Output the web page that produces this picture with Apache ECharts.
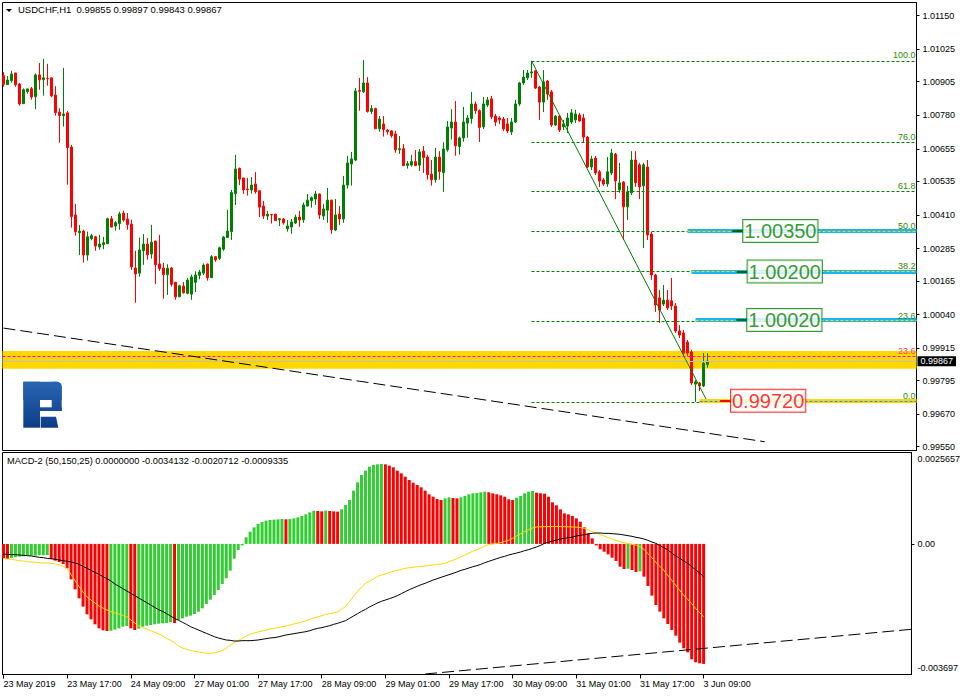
<!DOCTYPE html>
<html><head><meta charset="utf-8">
<script src="https://cdn.jsdelivr.net/npm/echarts@6/dist/echarts.min.js"></script>
<style>html,body{margin:0;padding:0;background:#fff}#c{width:963px;height:696px}</style>
</head><body><div id="c"></div>
<script>
// ---------------- data ----------------
const timeLabels = ['23 May 2019','23 May 17:00','24 May 09:00','27 May 01:00','27 May 17:00','28 May 09:00','29 May 01:00','29 May 17:00','30 May 09:00','31 May 01:00','31 May 17:00','3 Jun 09:00'];
const timeLabelBars = [0,16,32,48,64,80,96,112,128,144,160,176];
const priceTicks = ['1.01150','1.01025','1.00905','1.00780','1.00655','1.00535','1.00410','1.00285','1.00165','1.00040','0.99915','0.99795','0.99670','0.99550'];
const macdTicks = ['0.0025657','0.00','-0.003697'];

const open = [1.00927,1.00894,1.00909,1.00937,1.00896,1.00823,1.00868,1.00879,1.00849,1.00930,
1.00912,1.00917,1.00919,1.00855,1.00792,1.00779,1.00789,1.00662,1.00410,1.00344,
1.00350,1.00261,1.00322,1.00329,1.00291,1.00300,1.00303,1.00396,1.00369,1.00378,
1.00417,1.00395,1.00376,1.00213,1.00194,1.00277,1.00302,1.00265,1.00313,1.00228,
1.00213,1.00188,1.00213,1.00160,1.00106,1.00146,1.00119,1.00116,1.00160,1.00186,
1.00194,1.00228,1.00177,1.00255,1.00249,1.00283,1.00326,1.00348,1.00489,1.00583,
1.00547,1.00506,1.00503,1.00525,1.00500,1.00443,1.00406,1.00412,1.00413,1.00392,
1.00395,1.00359,1.00365,1.00380,1.00402,1.00392,1.00443,1.00463,1.00469,1.00488,
1.00406,1.00428,1.00465,1.00354,1.00413,1.00395,1.00521,1.00599,1.00614,1.00872,
1.00867,1.00900,1.00794,1.00805,1.00730,1.00748,1.00725,1.00722,1.00711,1.00652,
1.00656,1.00594,1.00595,1.00608,1.00595,1.00647,1.00625,1.00562,1.00541,1.00625,
1.00567,1.00652,1.00733,1.00755,1.00664,1.00696,1.00751,1.00768,1.00822,1.00797,
1.00737,1.00818,1.00841,1.00777,1.00770,1.00766,1.00748,1.00718,1.00755,1.00822,
1.00900,1.00919,1.00937,1.00945,1.00885,1.00829,1.00907,1.00867,1.00744,1.00777,
1.00737,1.00740,1.00755,1.00763,1.00781,1.00770,1.00699,1.00588,1.00621,1.00570,
1.00540,1.00525,1.00566,1.00636,1.00503,1.00532,1.00440,1.00492,1.00614,1.00596,
1.00518,1.00588,1.00339,1.00187,1.00102,1.00079,1.00094,1.00091,1.00072,0.99979,
0.99972,0.99938,0.99901,0.99782,0.99786,0.99775,0.99855];
const high = [1.00940,1.00926,1.00945,1.00938,1.00900,1.00880,1.00879,1.00885,1.00935,1.00974,
1.00989,1.00971,1.00920,1.00888,1.00806,1.00956,1.00796,1.00670,1.00451,1.00373,
1.00355,1.00348,1.00340,1.00332,1.00336,1.00329,1.00400,1.00406,1.00387,1.00422,
1.00426,1.00417,1.00392,1.00277,1.00326,1.00339,1.00324,1.00373,1.00314,1.00336,
1.00232,1.00227,1.00217,1.00161,1.00151,1.00161,1.00175,1.00188,1.00201,1.00206,
1.00230,1.00229,1.00261,1.00257,1.00292,1.00332,1.00428,1.00503,1.00633,1.00586,
1.00548,1.00547,1.00551,1.00569,1.00501,1.00462,1.00425,1.00413,1.00414,1.00399,
1.00399,1.00391,1.00395,1.00411,1.00425,1.00456,1.00488,1.00479,1.00499,1.00489,
1.00451,1.00510,1.00466,1.00469,1.00443,1.00555,1.00629,1.00644,1.00881,1.00919,
1.00985,1.00922,1.00818,1.00808,1.00777,1.00777,1.00729,1.00725,1.00722,1.00703,
1.00673,1.00610,1.00633,1.00651,1.00655,1.00666,1.00633,1.00614,1.00659,1.00647,
1.00680,1.00759,1.00803,1.00833,1.00701,1.00811,1.00781,1.00867,1.00831,1.00802,
1.00848,1.00848,1.00852,1.00785,1.00777,1.00774,1.00770,1.00770,1.00837,1.00904,
1.00948,1.00948,1.00982,1.00948,1.00889,1.00948,1.00911,1.00874,1.00781,1.00781,
1.00763,1.00789,1.00803,1.00800,1.00789,1.00785,1.00703,1.00629,1.00629,1.00577,
1.00547,1.00625,1.00655,1.00640,1.00603,1.00536,1.00518,1.00647,1.00647,1.00603,
1.00603,1.00614,1.00347,1.00191,1.00131,1.00150,1.00131,1.00176,1.00083,1.00001,
0.99983,0.99946,0.99909,0.99797,0.99790,0.99897,0.99897];
const low = [1.00886,1.00893,1.00901,1.00886,1.00816,1.00822,1.00860,1.00838,1.00803,1.00875,
1.00853,1.00890,1.00847,1.00779,1.00678,1.00738,1.00522,1.00363,1.00333,1.00261,
1.00233,1.00240,1.00316,1.00277,1.00281,1.00283,1.00302,1.00364,1.00352,1.00355,
1.00385,1.00355,1.00206,1.00084,1.00181,1.00225,1.00244,1.00248,1.00153,1.00202,
1.00099,1.00113,1.00144,1.00095,1.00105,1.00118,1.00115,1.00095,1.00124,1.00171,
1.00187,1.00166,1.00176,1.00236,1.00242,1.00277,1.00325,1.00317,1.00447,1.00521,
1.00488,1.00482,1.00489,1.00489,1.00402,1.00395,1.00391,1.00378,1.00388,1.00369,
1.00374,1.00348,1.00340,1.00376,1.00366,1.00381,1.00442,1.00437,1.00447,1.00395,
1.00391,1.00381,1.00340,1.00350,1.00373,1.00381,1.00508,1.00519,1.00610,1.00797,
1.00863,1.00790,1.00785,1.00729,1.00719,1.00701,1.00708,1.00697,1.00641,1.00637,
1.00592,1.00582,1.00589,1.00592,1.00574,1.00566,1.00541,1.00519,1.00530,1.00541,
1.00496,1.00645,1.00690,1.00630,1.00634,1.00682,1.00697,1.00749,1.00785,1.00681,
1.00729,1.00811,1.00766,1.00740,1.00748,1.00722,1.00714,1.00707,1.00751,1.00815,
1.00893,1.00911,1.00919,1.00878,1.00763,1.00792,1.00837,1.00737,1.00740,1.00718,
1.00725,1.00714,1.00748,1.00751,1.00755,1.00677,1.00584,1.00577,1.00558,1.00514,
1.00518,1.00514,1.00558,1.00469,1.00492,1.00317,1.00391,1.00484,1.00514,1.00469,
1.00287,1.00317,1.00169,1.00050,1.00009,1.00072,1.00057,1.00057,0.99972,0.99953,
0.99890,0.99886,0.99779,0.99716,0.99756,0.99771,0.99843];
const close = [1.00895,1.00911,1.00933,1.00893,1.00822,1.00875,1.00878,1.00848,1.00930,1.00912,
1.00919,1.00916,1.00852,1.00790,1.00779,1.00785,1.00660,1.00404,1.00348,1.00350,
1.00261,1.00329,1.00333,1.00295,1.00302,1.00307,1.00396,1.00365,1.00381,1.00414,
1.00391,1.00374,1.00217,1.00191,1.00280,1.00302,1.00262,1.00309,1.00225,1.00211,
1.00188,1.00212,1.00153,1.00106,1.00147,1.00121,1.00168,1.00180,1.00187,1.00198,
1.00224,1.00177,1.00255,1.00243,1.00288,1.00328,1.00350,1.00493,1.00581,1.00543,
1.00503,1.00504,1.00521,1.00496,1.00439,1.00406,1.00413,1.00410,1.00389,1.00396,
1.00381,1.00369,1.00384,1.00402,1.00391,1.00447,1.00465,1.00474,1.00488,1.00410,
1.00432,1.00465,1.00355,1.00410,1.00395,1.00521,1.00603,1.00618,1.00870,1.00869,
1.00900,1.00794,1.00805,1.00730,1.00766,1.00727,1.00719,1.00704,1.00652,1.00656,
1.00593,1.00600,1.00608,1.00593,1.00644,1.00623,1.00560,1.00541,1.00625,1.00571,
1.00655,1.00737,1.00755,1.00667,1.00696,1.00755,1.00770,1.00822,1.00797,1.00735,
1.00822,1.00837,1.00774,1.00755,1.00763,1.00729,1.00722,1.00755,1.00822,1.00900,
1.00922,1.00937,1.00941,1.00881,1.00829,1.00904,1.00859,1.00744,1.00777,1.00725,
1.00748,1.00770,1.00789,1.00785,1.00759,1.00699,1.00588,1.00618,1.00566,1.00536,
1.00525,1.00570,1.00640,1.00536,1.00529,1.00440,1.00495,1.00614,1.00529,1.00514,
1.00596,1.00336,1.00187,1.00076,1.00057,1.00094,1.00065,1.00072,0.99979,0.99964,
0.99897,0.99897,0.99786,0.99790,0.99775,0.99860,0.99867];

const macdHist = [-0.000411,-0.000429,-0.000401,-0.000382,-0.000363,-0.000354,-0.000344,-0.000335,-0.000335,-0.000325,
-0.000325,-0.000316,-0.000439,-0.000477,-0.000515,-0.000572,-0.000695,-0.001008,-0.001292,-0.001548,
-0.001785,-0.002003,-0.002145,-0.002288,-0.002401,-0.002458,-0.002477,-0.002468,-0.002439,-0.002401,
-0.002354,-0.002335,-0.002401,-0.002449,-0.002411,-0.002354,-0.002326,-0.002307,-0.002288,-0.002269,
-0.002259,-0.002250,-0.002231,-0.002250,-0.002164,-0.002117,-0.002070,-0.002041,-0.001994,-0.001927,
-0.001833,-0.001709,-0.001586,-0.001453,-0.001311,-0.001140,-0.000979,-0.000761,-0.000420,-0.000173,
-0.000041,0.000187,0.000348,0.000471,0.000566,0.000623,0.000661,0.000680,0.000689,0.000699,
0.000708,0.000699,0.000708,0.000727,0.000756,0.000794,0.000841,0.000898,0.000945,0.000936,
0.000926,0.000945,0.000936,0.000926,0.000917,0.000983,0.001106,0.001249,0.001514,0.001751,
0.001960,0.002083,0.002197,0.002244,0.002263,0.002272,0.002263,0.002225,0.002178,0.002083,
0.002007,0.001912,0.001817,0.001742,0.001675,0.001609,0.001514,0.001410,0.001343,0.001277,
0.001249,0.001296,0.001324,0.001305,0.001296,0.001324,0.001362,0.001410,0.001438,0.001448,
0.001467,0.001486,0.001467,0.001438,0.001410,0.001381,0.001343,0.001268,0.001249,0.001315,
0.001362,0.001438,0.001486,0.001505,0.001457,0.001438,0.001429,0.001343,0.001182,0.001097,
0.000983,0.000869,0.000841,0.000794,0.000727,0.000632,0.000471,0.000301,0.000158,-0.000041,
-0.000155,-0.000221,-0.000297,-0.000392,-0.000486,-0.000648,-0.000714,-0.000704,-0.000742,-0.000799,
-0.000780,-0.000932,-0.001197,-0.001472,-0.001738,-0.001927,-0.002117,-0.002278,-0.002449,-0.002610,
-0.002809,-0.002970,-0.003084,-0.003283,-0.003368,-0.003397,-0.0034132];
const macdYellow = [-0.000420,-0.000429,-0.000439,-0.000458,-0.000477,-0.000486,-0.000505,-0.000515,-0.000524,-0.000534,
-0.000543,-0.000543,-0.000553,-0.000572,-0.000591,-0.000638,-0.000704,-0.000875,-0.001046,-0.001216,
-0.001368,-0.001510,-0.001596,-0.001681,-0.001766,-0.001823,-0.001880,-0.001927,-0.001965,-0.001994,
-0.002032,-0.002070,-0.002164,-0.002250,-0.002335,-0.002382,-0.002420,-0.002468,-0.002515,-0.002563,
-0.002619,-0.002686,-0.002743,-0.002809,-0.002904,-0.002961,-0.002999,-0.003027,-0.003056,-0.003075,
-0.003093,-0.003112,-0.003112,-0.003103,-0.003075,-0.003027,-0.002970,-0.002875,-0.002809,-0.002752,
-0.002686,-0.002619,-0.002572,-0.002534,-0.002506,-0.002477,-0.002449,-0.002420,-0.002401,-0.002382,
-0.002354,-0.002335,-0.002307,-0.002278,-0.002250,-0.002221,-0.002193,-0.002145,-0.002108,-0.002079,
-0.002041,-0.002003,-0.001984,-0.001965,-0.001937,-0.001861,-0.001776,-0.001633,-0.001491,-0.001349,
-0.001226,-0.001122,-0.001065,-0.000998,-0.000932,-0.000885,-0.000856,-0.000809,-0.000780,-0.000752,
-0.000723,-0.000695,-0.000676,-0.000666,-0.000648,-0.000638,-0.000629,-0.000610,-0.000600,-0.000581,
-0.000572,-0.000553,-0.000505,-0.000467,-0.000420,-0.000363,-0.000316,-0.000259,-0.000202,-0.000164,
-0.000117,-0.000060,-0.000022,-0.000003,0.000016,0.000035,0.000073,0.000101,0.000158,0.000225,
0.000291,0.000357,0.000405,0.000452,0.000481,0.000486,0.000490,0.000493,0.000495,0.000495,
0.000493,0.000490,0.000486,0.000481,0.000476,0.000466,0.000443,0.000395,0.000348,0.000310,
0.000263,0.000225,0.000177,0.000139,0.000101,0.000064,0.000035,0.000007,-0.000012,-0.000031,
-0.000079,-0.000155,-0.000278,-0.000392,-0.000524,-0.000638,-0.000752,-0.000894,-0.001036,-0.001178,
-0.001321,-0.001463,-0.001577,-0.001700,-0.001833,-0.001956,-0.0020712];
const macdBlack = [-0.000287,-0.000297,-0.000306,-0.000306,-0.000316,-0.000325,-0.000335,-0.000344,-0.000363,-0.000382,
-0.000392,-0.000411,-0.000420,-0.000439,-0.000458,-0.000477,-0.000496,-0.000515,-0.000543,-0.000581,
-0.000638,-0.000695,-0.000752,-0.000809,-0.000866,-0.000932,-0.000989,-0.001055,-0.001140,-0.001207,
-0.001273,-0.001340,-0.001406,-0.001472,-0.001539,-0.001605,-0.001671,-0.001738,-0.001804,-0.001871,
-0.001918,-0.001984,-0.002051,-0.002117,-0.002174,-0.002231,-0.002288,-0.002354,-0.002401,-0.002449,
-0.002496,-0.002544,-0.002591,-0.002638,-0.002676,-0.002705,-0.002733,-0.002743,-0.002762,-0.002762,
-0.002752,-0.002752,-0.002752,-0.002743,-0.002733,-0.002714,-0.002695,-0.002676,-0.002667,-0.002648,
-0.002619,-0.002591,-0.002572,-0.002553,-0.002534,-0.002515,-0.002496,-0.002468,-0.002430,-0.002401,
-0.002382,-0.002354,-0.002326,-0.002288,-0.002259,-0.002221,-0.002183,-0.002117,-0.002051,-0.001984,
-0.001918,-0.001861,-0.001795,-0.001738,-0.001681,-0.001633,-0.001596,-0.001558,-0.001520,-0.001472,
-0.001415,-0.001359,-0.001302,-0.001254,-0.001207,-0.001159,-0.001122,-0.001074,-0.001027,-0.000989,
-0.000951,-0.000913,-0.000875,-0.000837,-0.000799,-0.000752,-0.000723,-0.000685,-0.000648,-0.000619,
-0.000581,-0.000534,-0.000496,-0.000458,-0.000420,-0.000382,-0.000354,-0.000316,-0.000287,-0.000259,
-0.000230,-0.000192,-0.000164,-0.000126,-0.000088,-0.000041,0.000016,0.000045,0.000082,0.000111,
0.000139,0.000158,0.000177,0.000196,0.000225,0.000244,0.000263,0.000282,0.000301,0.000310,
0.000310,0.000301,0.000301,0.000291,0.000282,0.000272,0.000253,0.000234,0.000215,0.000187,
0.000168,0.000139,0.000101,0.000054,0.000016,-0.000050,-0.000107,-0.000173,-0.000259,-0.000344,
-0.000411,-0.000486,-0.000553,-0.000648,-0.000733,-0.000828,-0.0009335];

const fibAnchors = [[132, 1.00982], [176, 0.99716]];
const fibLevels = [100.0, 76.0, 61.8, 50.0, 38.2, 23.6, 0.0];
const targetLabels = ['1.00350', '1.00200', '1.00020', '0.99720'];
const targetKinds = ['tp', 'tp', 'tp', 'sl'];
const targetStartBars = [171, 172, 173, 174];
const targetLabelBars = [184.8, 185.9, 185.8, 181.75];
const zoneBand = [0.99905, 0.99839];
const pinkLevel = 0.99884, pinkLabel = '23.6';
const bidPrice = 0.99867;
const trendMain = [[0, 0.99990], [190.3, 0.99568]];
const trendMacd = [[106, -0.0037002], [228.25, -0.002429]];
const headerText = 'USDCHF,H1  0.99855 0.99897 0.99843 0.99867';
const macdHeaderText = 'MACD-2 (50,150,25) 0.0000000 -0.0034132 -0.0020712 -0.0009335';

// ---------------- layout ----------------
const FONT = 'Liberation Sans';
const X0 = 3.5, BAR = 4;              // pixel centre of bar 0, pixels per bar
const GL = 2.5, GR = 916.5;            // grid left / right
const xMin = (GL - X0) / BAR, xMax = (GR - X0) / BAR;
const PRICE_MAX = 1.011988, PRICE_MIN = 0.995354;   // main pane extent
const MACD_MAX = 0.0025995, MACD_MIN = -0.0037144;  // macd pane extent

const GREEN = '#008000', RED = '#FF0000';
const fibPrice = lv => fibAnchors[1][1] + lv / 100 * (fibAnchors[0][1] - fibAnchors[1][1]);

const candleData = open.map((o, i) => [i, o, close[i], low[i], high[i]]);
const histData = macdHist.map((v, i) => ({
  value: [i, v],
  itemStyle: { color: (i === 0 || v < macdHist[i - 1]) ? '#FF0000' : '#32CD32' }
}));

const chart = echarts.init(document.getElementById('c'), null, { renderer: 'svg' });

const hLine = (x1, x2, y, lineStyle, label) => [
  { coord: [x1, y], lineStyle, label: label || { show: false } },
  { coord: [x2, y] }
];

const fibLines = fibLevels.map(lv => hLine(fibAnchors[0][0], xMax, fibPrice(lv),
  { color: GREEN, width: 1, type: [3, 2] },
  { show: true, position: 'insideEndTop', formatter: lv.toFixed(1), color: '#2E8B00',
    fontSize: 9, fontFamily: FONT, distance: [1, 1] }));

const overlayLines = [
  hLine(xMin, xMax, pinkLevel, { color: '#FF00FF', width: 1, type: [3, 2] },
    { show: true, position: 'insideEndTop', formatter: pinkLabel, color: '#FF3D6E',
      fontSize: 9, fontFamily: FONT, distance: [1, 1] }),
  hLine(xMin, xMax, bidPrice, { color: '#C0C0C0', width: 1, type: 'solid' },
    { show: true, position: 'end', formatter: bidPrice.toFixed(5), color: '#fff',
      backgroundColor: '#000', padding: [1, 3, 0, 3], fontSize: 9, fontFamily: FONT, distance: 1 }),
  ...fibLines,
  [{ coord: fibAnchors[0], lineStyle: { color: GREEN, width: 1, type: 'solid' }, label: { show: false } },
   { coord: fibAnchors[1] }],
  [{ coord: trendMain[0], lineStyle: { color: '#000', width: 1, type: [12, 5] }, label: { show: false } },
   { coord: trendMain[1] }]
];

const targetThick = targetLabels.map((t, k) => hLine(targetStartBars[k], xMax, Number(t),
  { color: targetKinds[k] === 'sl' ? '#FFD700' : '#1EB6EC', width: 4, type: 'solid' }));
const targetDash = targetLabels.map((t, k) => hLine(targetStartBars[k], xMax, Number(t),
  { color: targetKinds[k] === 'sl' ? '#1E90FF' : '#FFD700', width: 1, type: [3, 2] }));
const targetConnectors = targetLabels.map((t, k) => hLine(targetLabelBars[k] - 2.6, targetLabelBars[k], Number(t),
  { color: targetKinds[k] === 'sl' ? RED : '#006400', width: 2, type: 'solid' }));

const targetPoints = targetLabels.map((t, k) => {
  const c = targetKinds[k] === 'sl' ? RED : GREEN;
  return {
    value: [targetLabelBars[k], Number(t)],
    label: { show: true, position: 'right', distance: 0, formatter: t, color: c,
      fontSize: 20, fontFamily: FONT, backgroundColor: '#fff', borderColor: c, borderWidth: 1,
      padding: [1, 1, 0, 1], lineHeight: 21 }
  };
});

const noLbl = { show: false };
const option = {
  animation: false,
  backgroundColor: '#fff',
  grid: [
    { left: GL, top: 2.5, width: GR - GL, height: 448, show: true, borderColor: '#000', borderWidth: 1, backgroundColor: 'transparent' },
    { left: GL, top: 452.5, width: GR - GL, height: 222, show: true, borderColor: '#000', borderWidth: 1, backgroundColor: 'transparent' }
  ],
  xAxis: [
    { type: 'value', gridIndex: 0, min: xMin, max: xMax, show: false },
    { type: 'value', gridIndex: 1, min: xMin, max: xMax,
      axisLine: { show: true, onZero: false, lineStyle: { color: '#000', width: 1 } },
      axisTick: { show: true, customValues: timeLabelBars, length: 4, lineStyle: { color: '#000' } },
      axisLabel: { show: true, customValues: timeLabelBars, align: 'left', margin: 5,
        color: '#000', fontSize: 9, fontFamily: FONT,
        formatter: v => timeLabels[timeLabelBars.indexOf(Math.round(v))] || '' },
      splitLine: { show: false } }
  ],
  yAxis: [
    { type: 'value', gridIndex: 0, position: 'right', min: PRICE_MIN, max: PRICE_MAX,
      axisLine: { show: true, onZero: false, lineStyle: { color: '#000' } },
      axisTick: { show: true, customValues: priceTicks.map(Number), length: 3, lineStyle: { color: '#000' } },
      axisLabel: { show: true, customValues: priceTicks.map(Number), margin: 6, color: '#000',
        fontSize: 9, fontFamily: FONT, formatter: v => v.toFixed(5) },
      splitLine: { show: false } },
    { type: 'value', gridIndex: 1, position: 'right', min: MACD_MIN, max: MACD_MAX,
      axisLine: { show: true, onZero: false, lineStyle: { color: '#000' } },
      axisTick: { show: true, customValues: [0], length: 3, lineStyle: { color: '#000' } },
      axisLabel: { show: true, customValues: macdTicks.map(Number), margin: 6, color: '#000',
        fontSize: 9, fontFamily: FONT,
        formatter: v => {
          const t = macdTicks.reduce((b, s) => Math.abs(Number(s) - v) < Math.abs(Number(b) - v) ? s : b);
          return v > 0 ? '{t|' + t + '}' : (v < 0 ? '{b|' + t + '}' : t);
        },
        rich: { t: { padding: [11, 0, 0, 0], fontSize: 9, fontFamily: FONT, color: '#000' },
                b: { padding: [0, 0, 11, 0], fontSize: 9, fontFamily: FONT, color: '#000' } } },
      splitLine: { show: false } }
  ],
  series: [
    { type: 'line', xAxisIndex: 0, yAxisIndex: 0, data: [], z: 1, silent: true,
      markArea: { silent: true, itemStyle: { color: '#FFD700', opacity: 1 }, label: noLbl,
        data: [[{ coord: [xMin, zoneBand[0]] }, { coord: [xMax, zoneBand[1]] }]] } },
    { type: 'line', xAxisIndex: 0, yAxisIndex: 0, data: [], z: 2, silent: true,
      markLine: { silent: true, symbol: ['none', 'none'], animation: false, label: noLbl, data: overlayLines } },
    { type: 'candlestick', xAxisIndex: 0, yAxisIndex: 0, z: 3, barWidth: 2, data: candleData,
      itemStyle: { color: GREEN, color0: RED, borderColor: GREEN, borderColor0: RED, borderWidth: 1, borderColorDoji: null } },
    { type: 'line', xAxisIndex: 0, yAxisIndex: 0, data: [], z: 4, silent: true,
      markLine: { silent: true, symbol: ['none', 'none'], label: noLbl, data: targetThick } },
    { type: 'line', xAxisIndex: 0, yAxisIndex: 0, data: [], z: 5, silent: true,
      markLine: { silent: true, symbol: ['none', 'none'], label: noLbl, data: targetDash.concat(targetConnectors) } },
    { type: 'scatter', xAxisIndex: 0, yAxisIndex: 0, z: 6, silent: true, symbolSize: 1,
      itemStyle: { color: 'rgba(0,0,0,0)' }, data: targetPoints },
    { type: 'bar', xAxisIndex: 1, yAxisIndex: 1, barWidth: 3, z: 2, data: histData, silent: true },
    { type: 'line', xAxisIndex: 1, yAxisIndex: 1, z: 3, showSymbol: false, silent: true,
      lineStyle: { color: '#FFD700', width: 1 }, data: macdYellow.map((v, i) => [i, v]) },
    { type: 'line', xAxisIndex: 1, yAxisIndex: 1, z: 4, showSymbol: false, silent: true,
      lineStyle: { color: '#000', width: 1 }, data: macdBlack.map((v, i) => [i, v]),
      markLine: { silent: true, symbol: ['none', 'none'], label: noLbl,
        data: [[{ coord: trendMacd[0], lineStyle: { color: '#000', width: 1, type: [12, 5] } }, { coord: trendMacd[1] }]] } }
  ],
  graphic: [
    { type: 'polygon', shape: { points: [[6, 9], [12, 9], [9, 12]] }, style: { fill: '#000' }, silent: true },
    { type: 'text', left: 18, top: 4, style: { text: headerText, fill: '#000', font: '9.5px "Liberation Sans"' }, silent: true },
    { type: 'text', left: 7, top: 456, style: { text: macdHeaderText, fill: '#000', font: '9.3px "Liberation Sans"' }, silent: true },
    { type: 'group', silent: true, children: (() => {
        const fill = { type: 'linear', x: 0, y: 381, x2: 0, y2: 428, global: true,
          colorStops: [{ offset: 0, color: '#2A66B4' }, { offset: 1, color: '#0B3D86' }] };
        return [
          { type: 'rect', shape: { x: 23.3, y: 381.7, width: 16.7, height: 46 }, style: { fill } },
          { type: 'rect', shape: { x: 23.3, y: 381.7, width: 38.4, height: 18.3, r: [0, 5, 0, 0] }, style: { fill } },
          { type: 'rect', shape: { x: 51.7, y: 381.7, width: 10, height: 29.3, r: [0, 5, 0, 0] }, style: { fill } },
          { type: 'rect', shape: { x: 40, y: 407.3, width: 21.7, height: 3.7 }, style: { fill } },
          { type: 'polygon', shape: { points: [[40.7, 416.7], [56, 416.7], [58.3, 427.7], [40.7, 427.7]] }, style: { fill } }
        ];
      })() }
  ]
};
chart.setOption(option);
</script></body></html>
